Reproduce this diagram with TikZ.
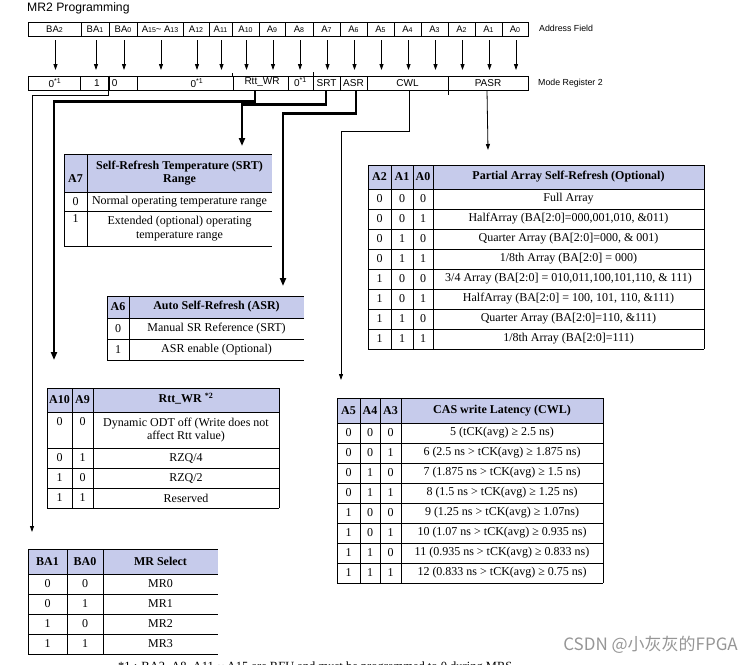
\documentclass[tikz,border=0pt]{standalone}
\usepackage{fontspec}
\setmainfont{Liberation Serif}
\newfontfamily\arialf{Liberation Sans}
\newfontfamily\cjkf{Noto Sans CJK SC}
\usetikzlibrary{arrows.meta}
\definecolor{hdrblue}{RGB}{198,203,235}
\definecolor{wmgray}{RGB}{150,150,150}
\newcommand\sbs[1]{\raisebox{-0.3pt}{\fontsize{7}{8}\selectfont #1}}
\newcommand\pasrRow[6]{%
  \node[txt] (p#1a) at (379.5,#2) {#3};
  \node[txt] (p#1b) at (402,#2) {#4};
  \node[txt] (p#1c) at (423,#2) {#5};
  \node[txt] (p#1d) at (568.5,#2) {#6};}
\newcommand\cwlRow[6]{%
  \node[txt] (c#1a) at (348.5,#2) {#3};
  \node[txt] (c#1b) at (370,#2) {#4};
  \node[txt] (c#1c) at (390.5,#2) {#5};
  \node[txt] (c#1d) at (502,#2) {#6};}
\begin{document}
\begin{tikzpicture}[x=1pt,y=-1pt,
  afcell/.style={draw, line width=0.8pt, inner sep=0pt, minimum height=14pt,
    font=\arialf\fontsize{9.5}{11}\selectfont},
  mrcell/.style={afcell, font=\arialf\fontsize{10}{11}\selectfont},
  mrtxt/.style={inner sep=0pt, font=\arialf\fontsize{10}{11}\selectfont},
  lbl/.style={inner sep=0pt, anchor=west, font=\arialf\fontsize{8.8}{10}\selectfont},
  tline/.style={line width=0.8pt},
  thinarr/.style={line width=0.8pt, -{Triangle[length=6pt,width=4pt]}},
  thickarr/.style={line width=2.4pt, -{Triangle[length=8pt,width=6pt]}},
  txt/.style={inner sep=0pt, align=center, font=\fontsize{12}{13.5}\selectfont},
  hdr/.style={inner sep=0pt, align=center, font=\bfseries\fontsize{12}{13.5}\selectfont},
]
\useasboundingbox (0,0) rectangle (754,664);

% title and labels
\node[inner sep=0pt, anchor=west, font=\arialf\fontsize{12.2}{14}\selectfont] (title) at (27,8) {MR2 Programming};
\node[lbl] (afl) at (539,28) {Address Field};
\node[lbl] (mrl) at (538,83) {Mode Register 2};

\coordinate (mrtop) at (0,76);

% address field
\foreach \l/\r/\n/\t in {28/81/aBA2/{BA\sbs{2}}, 81/109/aBA1/{BA\sbs{1}}, 109/137/aBA0/{BA\sbs{0}},
  137/183/aA15/{A\sbs{15}\textasciitilde{} A\sbs{13}}, 183/209/aA12/{A\sbs{12}}, 209/232/aA11/{A\sbs{11}},
  232/259/aA10/{A\sbs{10}}, 259/285/aA9/{A\sbs{9}}, 285/313/aA8/{A\sbs{8}}, 313/340/aA7/{A\sbs{7}},
  340/367/aA6/{A\sbs{6}}, 367/394/aA5/{A\sbs{5}}, 394/421/aA4/{A\sbs{4}}, 421/448/aA3/{A\sbs{3}},
  448/475/aA2/{A\sbs{2}}, 475/502/aA1/{A\sbs{1}}, 502/528/aA0/{A\sbs{0}}}
{
  \node[afcell, minimum width={(\r-\l)*1pt}] (\n) at ({(\l+\r)/2},29) {\t};
  \draw[thinarr, shorten <=4pt, shorten >=6pt] ([xshift=1pt]\n.south) -- ([xshift=1pt]\n.south |- mrtop);
}

% mode register 2
\node[mrcell, minimum width=52pt] (mZ1) at (54,83) {};
\node[mrtxt] (mZ1t) at (55,83) {0\textsuperscript{*1}};
\node[mrcell, minimum width=29pt] (mB1) at (94.5,83) {};
\node[mrtxt] (mB1t) at (97,83) {1};
\node[mrcell, minimum width=28pt] (mB0) at (123,83) {};
\node[mrtxt, anchor=west] (mB0t) at ([xshift=3pt]mB0.west) {0};
\node[mrcell, minimum width=96pt] (mZ2) at (185,83) {};
\node[mrtxt] (mZ2t) at (197,83) {0\textsuperscript{*1}};
\node[mrcell, minimum width=55pt] (mRtt) at (260.5,83) {};
\node[mrtxt] (mRttt) at (262,82) {Rtt\_WR};
\node[mrcell, minimum width=25pt] (mZ3) at (300.5,83) {};
\node[mrtxt] (mZ3t) at (300.5,82) {0\textsuperscript{*1}};
\node[mrcell, minimum width=27pt] (mSRT) at (326.5,83) {SRT};
\node[mrcell, minimum width=27pt] (mASR) at (353.5,83) {ASR};
\node[mrcell, minimum width=81pt] (mCWL) at (407.5,83) {CWL};
\node[mrcell, minimum width=80pt] (mPASR) at (488,83) {PASR};
\draw[line width=2pt] (mB0.north west) -- (mB0.south west);
\draw[tline] (mRtt.north west) -- ++(0,-3);
\draw[tline] (mZ3.north east) -- ++(0,-4);
\draw[tline] (mCWL.south east) -- ++(0,5);

% arrow targets
\coordinate (mrIn) at (32,532);
\coordinate (rttIn) at (54,360);
\coordinate (srtIn) at (242,146);
\coordinate (asrIn) at (283,286);
\coordinate (cwlIn) at (341,380);
\coordinate (pasrIn) at (487,150);

% connectors
\draw[thinarr] (mB0.south west) -- ++(0,5) -| (mrIn);
\draw[thickarr] ([xshift=-5.5pt]mRtt.south) -- ++(0,11) -| (rttIn);
\draw[thickarr] ([xshift=-0.5pt]mSRT.south) -- ++(0,14) -| (srtIn);
\draw[thickarr] ([xshift=2.5pt]mASR.south) -- ++(0,23) -| (asrIn);
\draw[thinarr] ([xshift=1.5pt]mCWL.south) -- ++(0,41) -| (cwlIn);
\draw[thinarr] ([xshift=-1pt]mPASR.south) -- (mPASR.south |- pasrIn);

% ---------- SRT table ----------
\fill[hdrblue] (64,154) rectangle (272,192);
\draw[tline] (64,154) -- (272,154) (64,192) -- (272,192) (64,211) -- (272,211) (64,246) -- (272,246)
  (64,154) -- (64,246) (87,154) -- (87,246);
\node[hdr] (sA7) at (75.5,179) {A7};
\node[hdr] (sH) at (179.5,173) {Self-Refresh Temperature (SRT)\\Range};
\node[txt] (s0a) at (75.5,201.5) {0};
\node[txt] (s0b) at (179.5,201.5) {Normal operating temperature range};
\node[txt] (s1a) at (75.5,219) {1};
\node[txt] (s1b) at (179.5,228.5) {Extended (optional) operating\\temperature range};

% ---------- ASR table ----------
\fill[hdrblue] (107,296) rectangle (304,318);
\draw[tline] (107,296) -- (304,296) (107,318) -- (304,318) (107,339) -- (304,339) (107,360) -- (304,360)
  (107,296) -- (107,360) (129,296) -- (129,360);
\node[hdr] (asA6) at (118,307) {A6};
\node[hdr] (asH) at (216.5,307) {Auto Self-Refresh (ASR)};
\node[txt] (as0a) at (118,328.5) {0};
\node[txt] (as0b) at (216.5,328.5) {Manual SR Reference (SRT)};
\node[txt] (as1a) at (118,349.5) {1};
\node[txt] (as1b) at (216.5,349.5) {ASR enable (Optional)};

% ---------- Rtt_WR table ----------
\fill[hdrblue] (47,388) rectangle (279,412);
\draw[tline] (47,388) -- (279,388) (47,412) -- (279,412) (47,448) -- (279,448) (47,468) -- (279,468)
  (47,488) -- (279,488) (47,508) -- (279,508)
  (47,388) -- (47,508) (72,388) -- (72,508) (93,388) -- (93,508) (279,388) -- (279,508);
\node[hdr] (rA10) at (59.5,400) {A10};
\node[hdr] (rA9) at (82.5,400) {A9};
\node[hdr] (rH) at (186,399) {Rtt\_WR \textsuperscript{*2}};
\node[txt] (r0a) at (59.5,422) {0};
\node[txt] (r0b) at (82.5,422) {0};
\node[txt] (r0c) at (186,430) {Dynamic ODT off (Write does not\\affect Rtt value)};
\node[txt] (r1a) at (59.5,458) {0};
\node[txt] (r1b) at (82.5,458) {1};
\node[txt] (r1c) at (186,458) {RZQ/4};
\node[txt] (r2a) at (59.5,478) {1};
\node[txt] (r2b) at (82.5,478) {0};
\node[txt] (r2c) at (186,478) {RZQ/2};
\node[txt] (r3a) at (59.5,498) {1};
\node[txt] (r3b) at (82.5,498) {1};
\node[txt] (r3c) at (186,498) {Reserved};

% ---------- PASR table ----------
\fill[hdrblue] (368,165) rectangle (704,189);
\foreach \y in {165,189,209,229,249,269,289,309,329,349} \draw[tline] (368,\y) -- (704,\y);
\foreach \x in {368,391,413,433,704} \draw[tline] (\x,165) -- (\x,349);
\node[hdr] (pA2) at (379.5,177) {A2};
\node[hdr] (pA1) at (402,177) {A1};
\node[hdr] (pA0) at (423,177) {A0};
\node[hdr] (pH) at (568.5,177) {Partial Array Self-Refresh (Optional)};
\pasrRow{0}{199}{0}{0}{0}{Full Array}
\pasrRow{1}{219}{0}{0}{1}{HalfArray (BA[2:0]=000,001,010, \&011)}
\pasrRow{2}{239}{0}{1}{0}{Quarter Array (BA[2:0]=000, \& 001)}
\pasrRow{3}{259}{0}{1}{1}{1/8th Array (BA[2:0] = 000)}
\pasrRow{4}{279}{1}{0}{0}{3/4 Array (BA[2:0] = 010,011,100,101,110, \& 111)}
\pasrRow{5}{299}{1}{0}{1}{HalfArray (BA[2:0] = 100, 101, 110, \&111)}
\pasrRow{6}{319}{1}{1}{0}{Quarter Array (BA[2:0]=110, \&111)}
\pasrRow{7}{339}{1}{1}{1}{1/8th Array (BA[2:0]=111)}

% ---------- CWL table ----------
\fill[hdrblue] (337,398) rectangle (603,423);
\foreach \y in {398,423,443,463,483,503,523,543,563,583} \draw[tline] (337,\y) -- (603,\y);
\foreach \x in {337,360,380,401,603} \draw[tline] (\x,398) -- (\x,583);
\node[hdr] (cA5) at (348.5,410.5) {A5};
\node[hdr] (cA4) at (370,410.5) {A4};
\node[hdr] (cA3) at (390.5,410.5) {A3};
\node[hdr] (cH) at (502,410.5) {CAS write Latency (CWL)};
\cwlRow{0}{433}{0}{0}{0}{5 (tCK(avg) ≥ 2.5 ns)}
\cwlRow{1}{453}{0}{0}{1}{6 (2.5 ns > tCK(avg) ≥ 1.875 ns)}
\cwlRow{2}{473}{0}{1}{0}{7 (1.875 ns > tCK(avg) ≥ 1.5 ns)}
\cwlRow{3}{493}{0}{1}{1}{8 (1.5 ns > tCK(avg) ≥ 1.25 ns)}
\cwlRow{4}{513}{1}{0}{0}{9 (1.25 ns > tCK(avg) ≥ 1.07ns)}
\cwlRow{5}{533}{1}{0}{1}{10 (1.07 ns > tCK(avg) ≥ 0.935 ns)}
\cwlRow{6}{553}{1}{1}{0}{11 (0.935 ns > tCK(avg) ≥ 0.833 ns)}
\cwlRow{7}{573}{1}{1}{1}{12 (0.833 ns > tCK(avg) ≥ 0.75 ns)}

% ---------- MR select table ----------
\fill[hdrblue] (28,549) rectangle (218,574);
\foreach \y in {549,574,594,614,634,654} \draw[tline] (28,\y) -- (218,\y);
\foreach \x in {28,67,103} \draw[tline] (\x,549) -- (\x,654);
\node[hdr] (mBA1) at (47.5,561.5) {BA1};
\node[hdr] (mBA0) at (85,561.5) {BA0};
\node[hdr] (mH) at (160.5,561.5) {MR Select};
\node[txt] (m0a) at (47.5,584) {0};
\node[txt] (m0b) at (85,584) {0};
\node[txt] (m0c) at (160.5,584) {MR0};
\node[txt] (m1a) at (47.5,604) {0};
\node[txt] (m1b) at (85,604) {1};
\node[txt] (m1c) at (160.5,604) {MR1};
\node[txt] (m2a) at (47.5,624) {1};
\node[txt] (m2b) at (85,624) {0};
\node[txt] (m2c) at (160.5,624) {MR2};
\node[txt] (m3a) at (47.5,644) {1};
\node[txt] (m3b) at (85,644) {1};
\node[txt] (m3c) at (160.5,644) {MR3};

% footnote (cut off at the bottom edge, as in the reference)
\node[inner sep=0pt, anchor=base west, font=\fontsize{12.5}{14}\selectfont] (fn) at (118,670.5)
  {*1 : BA2, A8, A11 \textasciitilde{} A15 are RFU and must be programmed to 0 during MRS.};

% watermark
\node[inner sep=0pt, anchor=east, text=wmgray, font=\cjkf\fontsize{17}{20}\selectfont] (wm) at (738,645) {CSDN @小灰灰的FPGA};
\end{tikzpicture}
\end{document}
